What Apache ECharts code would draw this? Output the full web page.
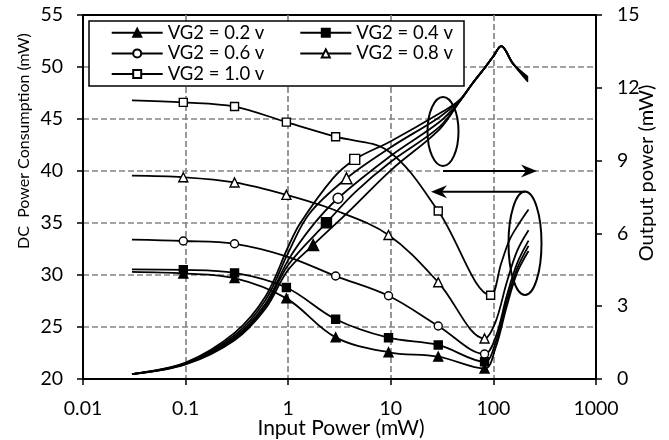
<!DOCTYPE html>
<html><head><meta charset="utf-8">
<script src="https://cdn.jsdelivr.net/npm/echarts@6/dist/echarts.min.js"></script>
<style>html,body{margin:0;padding:0;background:#fff}#c{width:669px;height:440px}</style>
</head><body><div id="c"></div>
<script>
// ---------- data ----------
const seriesNames = ['VG2 = 0.2 v', 'VG2 = 0.4 v', 'VG2 = 0.6 v', 'VG2 = 0.8 v', 'VG2 = 1.0 v'];
const xTickLabels = ['0.01', '0.1', '1', '10', '100', '1000'];

// DC power consumption (left axis, mW) vs input power (mW)
const dcX02 = [0.03, 0.095, 0.3, 0.96, 2.9, 9.5, 29, 82, 105, 135, 170, 220];
const dcY02 = [30.3, 30.15, 29.7, 27.75, 24.0, 22.57, 22.15, 21.0, 23.0, 27.0, 30.2, 32.3];
const dcMarks02 = [1, 2, 3, 4, 5, 6, 7];

const dcX04 = [0.03, 0.095, 0.3, 0.96, 2.9, 9.5, 29, 82, 105, 135, 170, 220];
const dcY04 = [30.55, 30.5, 30.2, 28.8, 25.75, 23.97, 23.27, 21.66, 23.5, 27.5, 30.6, 32.8];
const dcMarks04 = [1, 2, 3, 4, 5, 6, 7];

const dcX06 = [0.03, 0.095, 0.3, 0.96, 2.9, 9.5, 29, 82, 105, 135, 170, 220];
const dcY06 = [33.4, 33.27, 33.0, 31.8, 29.9, 28.0, 25.1, 22.4, 24.0, 28.0, 31.1, 33.3];
const dcMarks06 = [1, 2, 4, 5, 6, 7];

const dcX08 = [0.03, 0.095, 0.3, 0.96, 2.9, 9.5, 29, 82, 105, 135, 170, 220];
const dcY08 = [39.55, 39.4, 38.9, 37.7, 36.2, 33.85, 29.3, 23.9, 25.5, 29.3, 32.3, 34.3];
const dcMarks08 = [1, 2, 3, 5, 6, 7];

const dcX10 = [0.03, 0.095, 0.3, 0.96, 2.9, 9.5, 29, 94, 119, 144, 182, 220];
const dcY10 = [46.8, 46.6, 46.2, 44.7, 43.3, 41.9, 36.15, 28.05, 31.1, 33.4, 35.1, 36.3];
const dcMarks10 = [1, 2, 3, 4, 6, 7];

// Output power (right axis, mW) vs input power (mW)
const outX02 = [0.03, 0.1, 0.3, 0.6, 1, 1.75, 4, 10, 30, 47, 63, 84, 100, 119, 155, 217];
const outY02 = [0.2, 0.6, 1.6, 2.9, 4.5, 5.52, 6.95, 8.6, 10.3, 11.45, 12.2, 12.87, 13.3, 13.72, 13.0, 12.25];
const outMark02 = [5];

const outX04 = [0.03, 0.1, 0.3, 0.6, 1, 2.36, 4.5, 10, 30, 47, 63, 84, 100, 119, 155, 217];
const outY04 = [0.2, 0.62, 1.66, 3.0, 4.7, 6.44, 7.7, 8.95, 10.4, 11.45, 12.2, 12.87, 13.3, 13.72, 13.0, 12.3];
const outMark04 = [5];

const outX06 = [0.03, 0.1, 0.3, 0.6, 1, 1.75, 3.06, 10, 30, 47, 63, 84, 100, 119, 155, 217];
const outY06 = [0.2, 0.64, 1.72, 3.1, 4.9, 6.35, 7.45, 9.2, 10.6, 11.45, 12.2, 12.87, 13.3, 13.72, 13.0, 12.35];
const outMark06 = [6];

const outX08 = [0.03, 0.1, 0.3, 0.6, 1, 1.6, 3.7, 10, 30, 47, 63, 84, 100, 119, 155, 217];
const outY08 = [0.2, 0.66, 1.8, 3.25, 5.2, 6.8, 8.27, 9.55, 10.8, 11.5, 12.2, 12.87, 13.3, 13.72, 13.0, 12.4];
const outMark08 = [6];

const outX10 = [0.03, 0.1, 0.3, 0.6, 1, 1.3, 2.73, 4.45, 10, 30, 47, 63, 84, 100, 119, 155, 217];
const outY10 = [0.2, 0.68, 1.9, 3.4, 5.45, 6.4, 8.27, 9.05, 9.8, 10.95, 11.5, 12.2, 12.87, 13.3, 13.72, 13.0, 12.45];
const outMark10 = [7];

// ---------- styles ----------
const FONT = 'Lato';
const markerStyles = [
  { symbol: 'triangle', size: 9, fill: '#000' },
  { symbol: 'rect', size: 8, fill: '#000' },
  { symbol: 'circle', size: 8, fill: '#fff' },
  { symbol: 'triangle', size: 9, fill: '#fff' },
  { symbol: 'rect', size: 8, fill: '#fff' }
];
const dcSets = [[dcX02, dcY02, dcMarks02], [dcX04, dcY04, dcMarks04], [dcX06, dcY06, dcMarks06], [dcX08, dcY08, dcMarks08], [dcX10, dcY10, dcMarks10]];
const outSets = [[outX02, outY02, outMark02], [outX04, outY04, outMark04], [outX06, outY06, outMark06], [outX08, outY08, outMark08], [outX10, outY10, outMark10]];

function buildData(xs, ys, marks, sizeBoost) {
  return xs.map((x, i) => marks.includes(i)
    ? (sizeBoost ? { value: [x, ys[i]], symbolSize: sizeBoost } : { value: [x, ys[i]] })
    : { value: [x, ys[i]], symbol: 'none' });
}

const series = [];
seriesNames.forEach((nm, k) => {
  const m = markerStyles[k];
  const common = {
    name: nm, type: 'line', smooth: 0.35, showSymbol: true, symbol: m.symbol, symbolSize: m.size,
    lineStyle: { color: '#000', width: 1.8 },
    itemStyle: { color: m.fill, borderColor: '#000', borderWidth: 1.4 },
    emphasis: { disabled: true }, animation: false
  };
  series.push(Object.assign({}, common, { xAxisIndex: 0, yAxisIndex: 0, data: buildData(dcSets[k][0], dcSets[k][1], dcSets[k][2]) }));
  series.push(Object.assign({}, common, { xAxisIndex: 0, yAxisIndex: 1, data: buildData(outSets[k][0], outSets[k][1], outSets[k][2], m.size + 2) }));
});

const legendCommon = {
  orient: 'vertical', itemWidth: 51, itemHeight: 10, itemGap: 0.7, padding: 0, top: 22.7,
  textStyle: { fontFamily: FONT, fontSize: 18.5, color: '#000', lineHeight: 20 }, selectedMode: false, z: 6
};

function arrowHead(tipX, tipY, dir) {
  const L = 16, H = 6.5, N = 11;
  return [[tipX, tipY], [tipX - dir * L, tipY - H], [tipX - dir * N, tipY], [tipX - dir * L, tipY + H]];
}

const chart = echarts.init(document.getElementById('c'), null, { renderer: 'canvas' });
chart.setOption({
  animation: false,
  backgroundColor: '#fff',
  textStyle: { fontFamily: FONT },
  grid: { left: 83, right: 73, top: 15, bottom: 61, show: true, borderColor: '#000', borderWidth: 2, backgroundColor: 'transparent' },
  xAxis: [{
    type: 'log', logBase: 10, min: 0.01, max: 1000, position: 'bottom',
    axisLine: { show: true, onZero: false, lineStyle: { color: '#000', width: 2 } },
    axisTick: { show: true, length: 6, lineStyle: { color: '#000', width: 1.5 } },
    minorTick: { show: false },
    axisLabel: { fontFamily: FONT, fontSize: 19.5, color: '#000', margin: 20,
      formatter: v => xTickLabels[Math.round(Math.log10(v)) + 2] },
    splitLine: { show: true, showMinLine: false, showMaxLine: false, lineStyle: { color: '#858585', width: 1.7, type: [6, 3] } }
  }],
  yAxis: [{
    type: 'value', min: 20, max: 55, interval: 5, position: 'left',
    axisLine: { show: true, lineStyle: { color: '#000', width: 2 } },
    axisTick: { show: true, length: 6, lineStyle: { color: '#000', width: 1.5 } },
    axisLabel: { fontFamily: FONT, fontSize: 19.5, color: '#000', margin: 20 },
    splitLine: { show: true, showMinLine: false, showMaxLine: false, lineStyle: { color: '#858585', width: 1.7, type: [6, 3] } }
  }, {
    type: 'value', min: 0, max: 15, interval: 3, position: 'right',
    axisLine: { show: true, lineStyle: { color: '#000', width: 2 } },
    axisTick: { show: true, length: 6, lineStyle: { color: '#000', width: 1.5 } },
    axisLabel: { fontFamily: FONT, fontSize: 19.5, color: '#000', margin: 21 },
    splitLine: { show: false }
  }],
  legend: [
    Object.assign({}, legendCommon, { left: 110.7, data: [seriesNames[0], seriesNames[2], seriesNames[4]] }),
    Object.assign({}, legendCommon, { left: 299.3, data: [seriesNames[1], seriesNames[3]] })
  ],
  graphic: [
    { type: 'rect', z: 5, shape: { x: 89, y: 21, width: 375, height: 65 }, style: { fill: '#fff', stroke: '#000', lineWidth: 1.5 } },
    { type: 'ellipse', z: 10, shape: { cx: 443, cy: 131.5, rx: 15.5, ry: 34.5 }, style: { fill: null, stroke: '#000', lineWidth: 2 } },
    { type: 'ellipse', z: 10, shape: { cx: 525, cy: 243.3, rx: 16.5, ry: 51.7 }, style: { fill: null, stroke: '#000', lineWidth: 2 } },
    { type: 'line', z: 10, shape: { x1: 443, y1: 171, x2: 530, y2: 171 }, style: { stroke: '#000', lineWidth: 2 } },
    { type: 'polygon', z: 10, shape: { points: arrowHead(537, 171, 1) }, style: { fill: '#000' } },
    { type: 'line', z: 10, shape: { x1: 525, y1: 191.7, x2: 438, y2: 191.7 }, style: { stroke: '#000', lineWidth: 2 } },
    { type: 'polygon', z: 10, shape: { points: arrowHead(431, 191.7, -1) }, style: { fill: '#000' } },
    { type: 'text', z: 10, x: 341, y: 428, style: { text: 'Input Power (mW)', font: '21px ' + FONT, fill: '#000', textAlign: 'center', textVerticalAlign: 'middle' } },
    { type: 'text', z: 10, x: 24, y: 141, rotation: Math.PI / 2, style: { text: 'DC  Power Consumption (mW)', font: '16px ' + FONT, fill: '#000', textAlign: 'center', textVerticalAlign: 'middle' } },
    { type: 'text', z: 10, x: 647, y: 173, rotation: Math.PI / 2, style: { text: 'Output power (mW)', font: '20px ' + FONT, fill: '#000', textAlign: 'center', textVerticalAlign: 'middle' } }
  ],
  series: series
});
</script>
</body></html>
